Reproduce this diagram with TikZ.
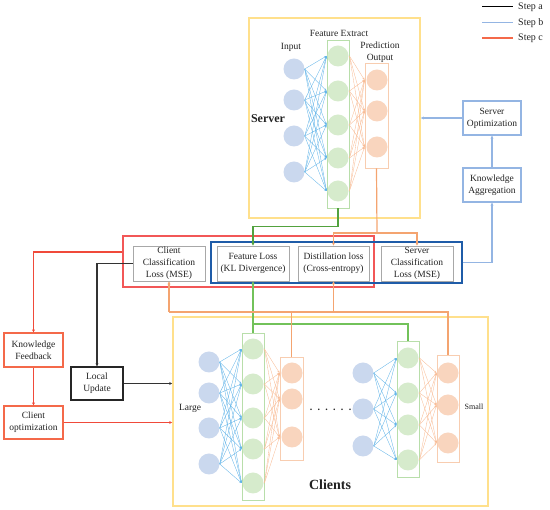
\documentclass[tikz,border=0pt]{standalone}
\usepackage{fontspec}
\setmainfont{Liberation Serif}
\usetikzlibrary{arrows.meta,calc}
\definecolor{inblue}{HTML}{CAD8EE}
\definecolor{fegreen}{HTML}{D6EBCC}
\definecolor{fegreenline}{HTML}{B8DEAA}
\definecolor{outorange}{HTML}{F9D5BE}
\definecolor{outorangeline}{HTML}{F8CDB0}
\definecolor{nnblue}{HTML}{62B4E8}
\definecolor{nnorange}{HTML}{F8BC96}
\definecolor{ylw}{HTML}{FFE08C}
\definecolor{boxgray}{HTML}{A8A8A8}
\definecolor{redbox}{HTML}{F25757}
\definecolor{darkblue}{HTML}{1F5CA8}
\definecolor{lblue}{HTML}{94B5E3}
\definecolor{redline}{HTML}{F04A3A}
\definecolor{oline}{HTML}{F4A470}
\definecolor{gline}{HTML}{72C25A}
\definecolor{gdark}{HTML}{52A23E}
\definecolor{stepc}{HTML}{F4694A}
\definecolor{txt}{HTML}{222222}
\begin{document}
\begin{tikzpicture}[x=1pt,y=-1pt,
  font=\fontsize{9.5}{11.8}\selectfont, text=txt,
  tip/.style={-{Stealth[length=3pt,width=3pt]}},
  nntip/.style={-{Stealth[length=2.5pt,width=2pt]}},
  conn/.style={line width=1.2pt},
  incirc/.style={circle,fill=inblue,minimum size=21pt,inner sep=0pt},
  fecirc/.style={circle,fill=fegreen,minimum size=21pt,inner sep=0pt},
  outcirc/.style={circle,fill=outorange,minimum size=21pt,inner sep=0pt},
  ferect/.style={draw=fegreenline,line width=0.9pt,minimum width=22pt,inner sep=0pt},
  outrect/.style={draw=outorangeline,line width=0.9pt,minimum width=23pt,inner sep=0pt},
  bigbox/.style={draw=ylw,line width=1.6pt,inner sep=0pt},
  lossbox/.style={draw=boxgray,line width=0.9pt,minimum width=72pt,minimum height=35pt,align=center,inner sep=0pt},
  bluebox/.style={draw=lblue,line width=1.1pt,minimum width=58pt,minimum height=34pt,align=center,inner sep=0pt},
  redsbox/.style={draw=stepc,line width=1.2pt,minimum width=59pt,minimum height=34pt,align=center,inner sep=0pt},
  nnb/.style={draw=nnblue,line width=0.35pt,nntip},
  nno/.style={draw=nnorange,line width=0.35pt,nntip},
  lbl/.style={inner sep=0pt,align=center}
]
\useasboundingbox (0,0) rectangle (550,510);

% ---------- Server ----------
\node[bigbox,minimum width=171pt,minimum height=200pt] (srv) at (334.5,118) {};
\node[ferect,minimum height=168pt] (sfe) at (338,124) {};
\node[outrect,minimum height=105pt] (sout) at (376.5,115.5) {};
\foreach \y [count=\i] in {69,100,136,172} \node[incirc] (sin\i) at (294,\y) {};
\foreach \y [count=\i] in {56,91,125,158,191} \node[fecirc] (sf\i) at (338,\y) {};
\foreach \y [count=\i] in {80,111,147} \node[outcirc] (so\i) at (377,\y) {};
\foreach \i in {1,...,4} \foreach \j in {1,...,5} \draw[nnb] (sin\i.east) -- (sf\j -| sfe.west);
\foreach \i in {1,...,5} \foreach \j in {1,...,3} \draw[nno] (sf\i -| sfe.east) -- (so\j -| sout.west);
\node[lbl] (tin) at (291,47) {Input};
\node[lbl] (tfe) at (339,33) {Feature Extract};
\node[lbl] (tpo) at (380,52.5) {Prediction\\Output};
\node[lbl,font=\fontsize{12}{14}\selectfont\bfseries] (tsrv) at (268,119) {Server};

% ---------- Clients ----------
\node[bigbox,minimum width=315pt,minimum height=189pt] (cli) at (330.5,411.5) {};
% large
\node[ferect,minimum height=167pt] (lfe) at (253,416.5) {};
\node[outrect,minimum height=103pt] (lout) at (291.5,408.5) {};
\foreach \y [count=\i] in {362,393,428,464} \node[incirc] (lin\i) at (209,\y) {};
\foreach \y [count=\i] in {349,384,418,449,483} \node[fecirc] (lf\i) at (253,\y) {};
\foreach \y [count=\i] in {373,399,437} \node[outcirc] (lo\i) at (292,\y) {};
\foreach \i in {1,...,4} \foreach \j in {1,...,5} \draw[nnb] (lin\i.east) -- (lf\j -| lfe.west);
\foreach \i in {1,...,5} \foreach \j in {1,...,3} \draw[nno] (lf\i -| lfe.east) -- (lo\j -| lout.west);
% small
\node[ferect,minimum height=136pt] (mfe) at (408,409) {};
\node[outrect,minimum width=22pt,minimum height=107pt] (mout) at (448,408.5) {};
\foreach \y [count=\i] in {373,409,446} \node[incirc] (min\i) at (363,\y) {};
\foreach \y [count=\i] in {358,393,425,460} \node[fecirc] (mf\i) at (408,\y) {};
\foreach \y [count=\i] in {373,405,443} \node[outcirc] (mo\i) at (448,\y) {};
\foreach \i in {1,...,3} \foreach \j in {1,...,4} \draw[nnb] (min\i.east) -- (mf\j -| mfe.west);
\foreach \i in {1,...,4} \foreach \j in {1,...,3} \draw[nno] (mf\i -| mfe.east) -- (mo\j -| mout.west);
\node[lbl] (tlarge) at (190,408) {Large};
\node[lbl,font=\fontsize{8}{10}\selectfont] (tsmall) at (474,407) {Small};
\node[lbl,font=\fontsize{14}{16}\selectfont\bfseries] (tcli) at (330,485) {Clients};
\node[lbl,font=\fontsize{10}{12}\selectfont\bfseries] (tdots) at (330.5,409.5) {.\hspace{5.3pt}.\hspace{5.3pt}.\hspace{5.3pt}.\hspace{5.3pt}.\hspace{5.3pt}.};

% ---------- Loss boxes ----------
\node[draw=redbox,line width=1.4pt,minimum width=251pt,minimum height=51pt,inner sep=0pt] (rbox) at (248.5,261.5) {};
\node[draw=darkblue,line width=1.3pt,minimum width=251pt,minimum height=41pt,inner sep=0pt] (bbox) at (336.5,262.5) {};
\node[lossbox] (ccl) at (169,263.5) {Client\\Classification\\Loss (MSE)};
\node[lossbox] (fl) at (253,263.5) {Feature Loss\\(KL Divergence)};
\node[lossbox,minimum width=71pt] (dl) at (333.5,263.5) {Distillation loss\\(Cross-entropy)};
\node[lossbox] (scl) at (417,263.5) {Server\\Classification\\Loss (MSE)};

% ---------- Side boxes ----------
\node[bluebox] (sopt) at (492,118) {Server\\Optimization};
\node[bluebox] (kagg) at (492,185) {Knowledge\\Aggregation};
\node[redsbox] (kf) at (33.5,350) {Knowledge\\Feedback};
\node[redsbox,minimum height=33pt] (copt) at (33.5,422.5) {Client\\optimization};
\node[draw=black!85,line width=1.1pt,minimum width=52pt,minimum height=33pt,align=center,inner sep=0pt] (lu) at (97,383.5) {Local\\Update};

% ---------- Connectors ----------
% step b (blue)
\draw[lblue,conn,tip] (sopt.west) -- (sopt.west -| srv.east);
\draw[lblue,conn,tip] (kagg.north) -- (sopt.south);
\draw[lblue,conn,tip] (bbox.east) -| (kagg.south);
% green
\draw[gdark,conn,tip] (sfe.south) -- ++(0,18) -| (fl.north);
\draw[gline,conn,tip] (lfe.north) -- (fl.south);
\coordinate (gj) at (253,324);
\draw[gline,conn] (gj) -| (mfe.north);
% orange from server
\coordinate (oj) at (377,233);
\draw[oline,conn] (sout.south) -- (oj);
\draw[oline,conn,tip] (oj) -| (dl.north);
\draw[oline,conn,tip] (oj) -| (scl.north);
% orange from clients
\coordinate (ob1) at (169,312);
\coordinate (ob2) at (448,312);
\draw[oline,conn,tip] (ob1) -- (ccl.south);
\draw[oline,conn] (ob1) -- (ob2) -- (mout.north);
\draw[oline,conn] (lout.north) -- (lout.north |- ob1);
\draw[oline,conn,tip] (dl.south |- ob1) -- (dl.south);
% step c (red)
\draw[redline,conn,tip] ($(rbox.west)+(0,-9.5)$) -| (kf.north);
\draw[redline,conn,tip] (kf.south) -- (copt.north);
\draw[redline,conn,tip] (copt.east) -- (copt.east -| cli.west);
% step a (black)
\draw[black!80,conn,tip] (ccl.west) -| (lu.north);
\draw[black!80,conn,tip] (lu.east) -- (lu.east -| cli.west);

% ---------- Legend ----------
\coordinate (la1) at (482,7);  \coordinate (la2) at (513,7);
\coordinate (lb1) at (482,23); \coordinate (lb2) at (513,23);
\coordinate (lc1) at (482,38); \coordinate (lc2) at (513,38);
\draw[black,line width=1pt] (la1) -- (la2);
\draw[lblue,line width=1pt] (lb1) -- (lb2);
\draw[stepc,line width=1.3pt] (lc1) -- (lc2);
\node[anchor=west,inner sep=0pt,font=\fontsize{10}{12}\selectfont] (ta) at (518,7) {Step a};
\node[anchor=west,inner sep=0pt,font=\fontsize{10}{12}\selectfont] (tb) at (518,23) {Step b};
\node[anchor=west,inner sep=0pt,font=\fontsize{10}{12}\selectfont] (tc) at (518,38) {Step c};
\end{tikzpicture}
\end{document}
